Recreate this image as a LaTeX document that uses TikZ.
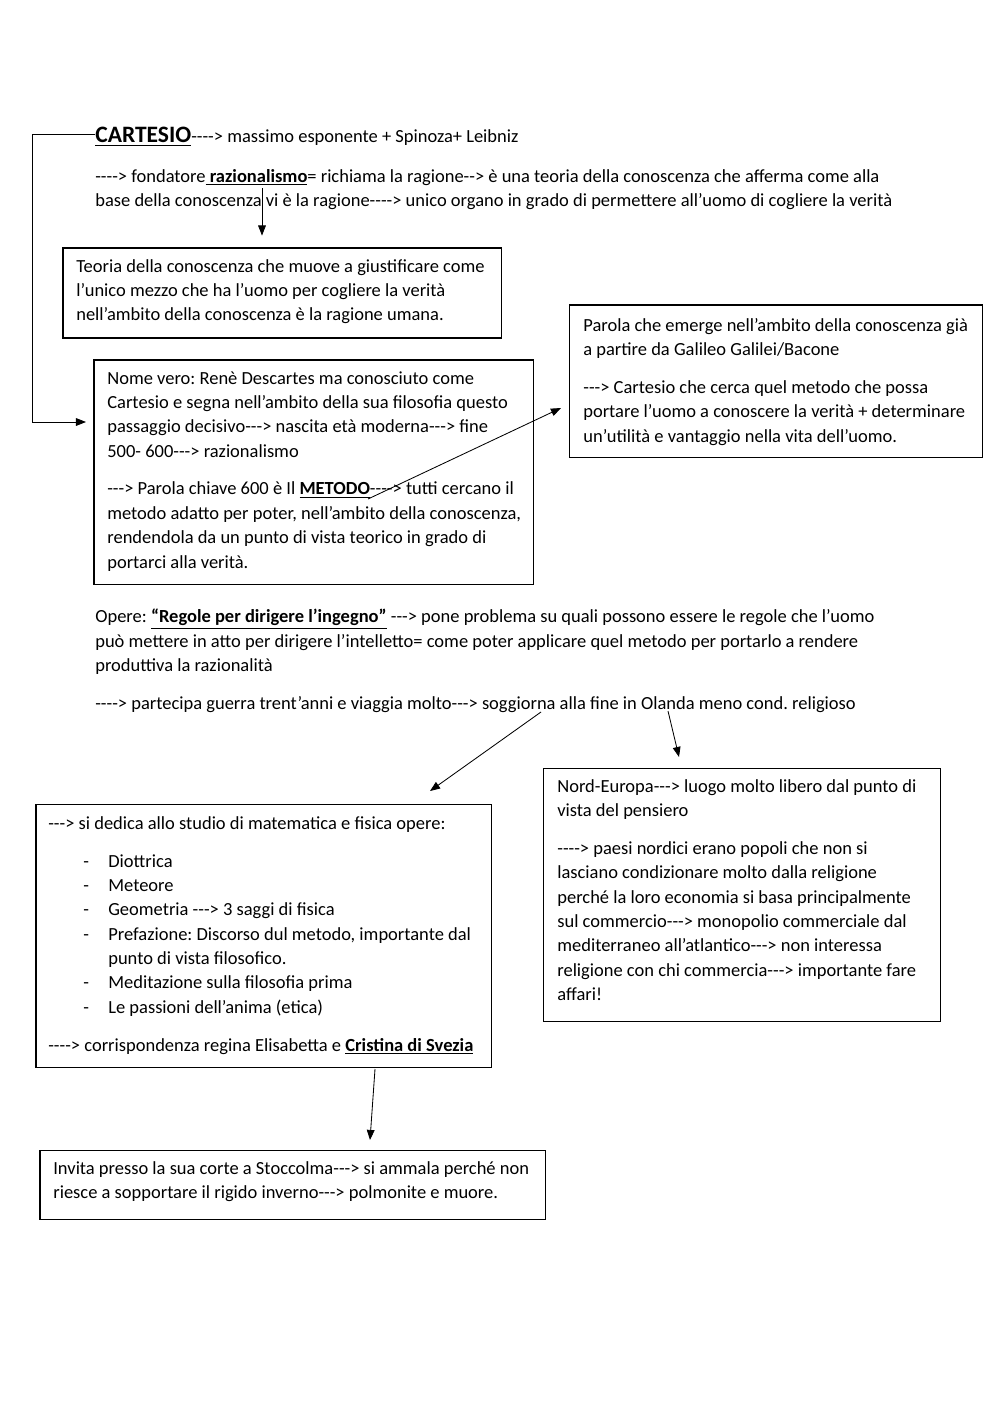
\documentclass[tikz,border=0pt]{standalone}
\usepackage{fontspec}
\setmainfont{Carlito}[Ligatures=TeXOff]
\usetikzlibrary{arrows.meta,fit,calc}
\frenchspacing
\newcommand\bitem[1]{\hspace*{20.8pt}\makebox[14.9pt][l]{-}#1}
\tikzset{
  box/.style={draw, line width=0.6pt, inner sep=0pt},
  txt/.style={anchor=north west, inner sep=0pt, align=left,
    font=\fontsize{11}{14.5}\selectfont\frenchspacing, execute at begin node=\strut},
  arr/.style={-{Triangle[length=6pt,width=4.6pt]}, line width=0.5pt},
}
\begin{document}
\begin{tikzpicture}[x=0.595pt,y=-0.595pt]
\useasboundingbox (0,0) rectangle (1000,1415);

% boxes
\node[box, fit={(63,248) (501,338)}] (b1) {};
\node[box, fit={(569,305) (982,457)}] (b2) {};
\node[box, fit={(94,360) (533,584)}] (b3) {};
\node[box, fit={(36,804) (491,1067)}] (b4) {};
\node[box, fit={(543,768) (940,1021)}] (b5) {};
\node[box, fit={(40,1150) (545,1219)}] (b6) {};

% texts
\node[anchor=base west, inner sep=0pt] (cart) at (95,143)
  {\fontsize{14}{17}\selectfont\underline{\textbf{CARTESIO}}\fontsize{11}{14.5}\selectfont----> massimo esponente + Spinoza+ Leibniz};

\node[txt] (intro) at (95,169) {----> fondatore\underline{\textbf{ razionalismo}}= richiama la ragione--> è una teoria della conoscenza che afferma come alla\\
base della conoscenza vi è la ragione----> unico organo in grado di permettere all’uomo di cogliere la verità};

\node[txt] (t1) at (76,259) {Teoria della conoscenza che muove a giustificare come\\
l’unico mezzo che ha l’uomo per cogliere la verità\\
nell’ambito della conoscenza è la ragione umana.};

\node[txt] (t2) at (583,318) {Parola che emerge nell’ambito della conoscenza già\\
a partire da Galileo Galilei/Bacone\\[8pt]
---> Cartesio che cerca quel metodo che possa\\
portare l’uomo a conoscere la verità + determinare\\
un’utilità e vantaggio nella vita dell’uomo.};

\node[txt] (t3) at (107,371) {Nome vero: Renè Descartes ma conosciuto come\\
Cartesio e segna nell’ambito della sua filosofia questo\\
passaggio decisivo---> nascita età moderna---> fine\\
500- 600---> razionalismo\\[8pt]
---> Parola chiave 600 è Il \underline{\textbf{METODO}}----> tutti cercano il\\
metodo adatto per poter, nell’ambito della conoscenza,\\
rendendola da un punto di vista teorico in grado di\\
portarci alla verità.};

\node[txt] (opere) at (95,609) {Opere: \underline{\textbf{“Regole per dirigere l’ingegno”}} ---> pone problema su quali possono essere le regole che l’uomo\\
può mettere in atto per dirigere l’intelletto= come poter applicare quel metodo per portarlo a rendere\\
produttiva la razionalità\\[8pt]
----> partecipa guerra trent’anni e viaggia molto---> soggiorna alla fine in Olanda meno cond. religioso};

\node[txt] (t4) at (48,816) {---> si dedica allo studio di matematica e fisica opere:\\[8pt]
\bitem{Diottrica}\\
\bitem{Meteore}\\
\bitem{Geometria ---> 3 saggi di fisica}\\
\bitem{Prefazione: Discorso dul metodo, importante dal}\\
\hspace*{35.7pt}punto di vista filosofico.\\
\bitem{Meditazione sulla filosofia prima}\\
\bitem{Le passioni dell’anima (etica)}\\[8pt]
----> corrispondenza regina Elisabetta e \underline{\textbf{Cristina di Svezia}}};

\node[txt] (t5) at (557,779) {Nord-Europa---> luogo molto libero dal punto di\\
vista del pensiero\\[8pt]
----> paesi nordici erano popoli che non si\\
lasciano condizionare molto dalla religione\\
perché la loro economia si basa principalmente\\
sul commercio---> monopolio commerciale dal\\
mediterraneo all’atlantico---> non interessa\\
religione con chi commercia---> importante fare\\
affari!};

\node[txt] (t6) at (53,1161) {Invita presso la sua corte a Stoccolma---> si ammala perché non\\
riesce a sopportare il rigido inverno---> polmonite e muore.};

% connector end points
\coordinate (raz) at (262,188);
\coordinate (loopin) at (86,422);
\coordinate (met) at (368,499);
\coordinate (b2in) at (561,408);
\coordinate (ol1) at (541,712);
\coordinate (ol2) at (668,711);
\coordinate (b4in) at (430,791);
\coordinate (b5in) at (679,757);
\coordinate (crs) at (375,1069);
\coordinate (b6in) at (370,1140);

% connectors
\draw[arr] ([yshift=5.4pt]cart.base west) -- ++(-63,0) |- (loopin);
\draw[arr, shorten >=7.1pt] (raz) -- (raz |- b1.north);
\draw[arr] (met) -- (b2in);
\draw[arr] (ol1) -- (b4in);
\draw[arr] (ol2) -- (b5in);
\draw[arr] (crs) -- (b6in);
\end{tikzpicture}
\end{document}
